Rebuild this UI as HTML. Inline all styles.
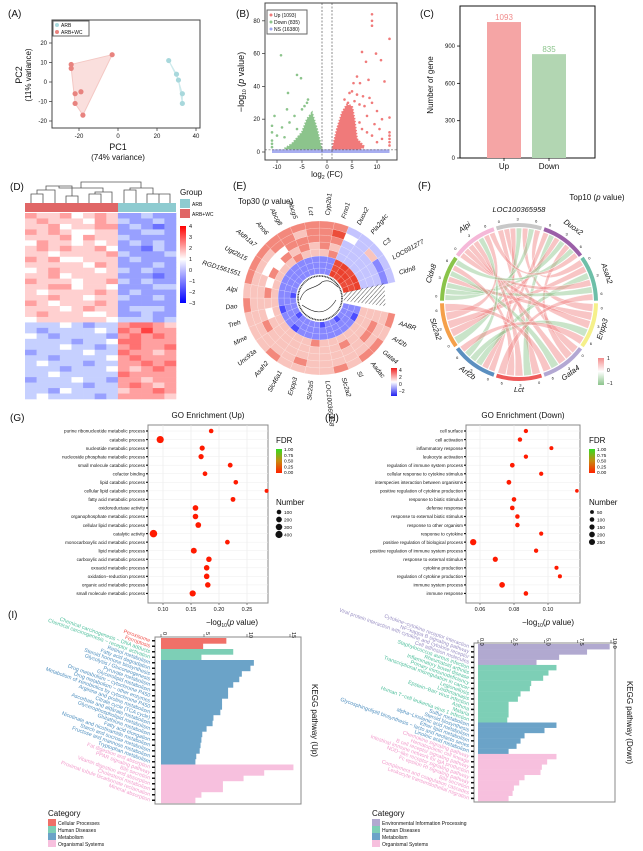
<!DOCTYPE html>
<html><head><meta charset="utf-8"><style>
body{margin:0;background:#fff}
svg{display:block;font-family:"Liberation Sans",sans-serif}
</style></head><body>
<svg id="fig" width="643" height="851" viewBox="0 0 643 851" xmlns="http://www.w3.org/2000/svg">
<defs>
<linearGradient id="gD" x1="0" y1="0" x2="0" y2="1"><stop offset="0" stop-color="#ff0000"/><stop offset="0.43" stop-color="#ffffff"/><stop offset="1" stop-color="#0000ff"/></linearGradient>
<linearGradient id="gE" x1="0" y1="0" x2="0" y2="1"><stop offset="0" stop-color="#f02020"/><stop offset="0.5" stop-color="#ffffff"/><stop offset="1" stop-color="#2020f0"/></linearGradient>
<linearGradient id="gF" x1="0" y1="0" x2="0" y2="1"><stop offset="0" stop-color="#f48c8c"/><stop offset="0.5" stop-color="#ffffff"/><stop offset="1" stop-color="#8cc48c"/></linearGradient>
<linearGradient id="gFDR" x1="0" y1="0" x2="0" y2="1"><stop offset="0" stop-color="#33dd22"/><stop offset="0.5" stop-color="#c88a10"/><stop offset="1" stop-color="#ff2200"/></linearGradient>
<pattern id="hatchP" width="3" height="3" patternUnits="userSpaceOnUse" patternTransform="rotate(45)"><line x1="0" y1="0" x2="0" y2="3" stroke="#222" stroke-width="0.8"/></pattern>
</defs>
</svg>
<script>
// ---------- data ----------
const pcaRed=[[-24,9],[-24,7],[-22,-6],[-19,-5],[-22,-11],[-18,-17],[-3,14]];
const pcaBlue=[[26,11],[30,4],[31,1],[33,-6],[33,-11]];
const volUp=[[9,84],[9,80],[9,77],[12.5,69],[7,61],[9.8,60],[10.8,56],[7.8,55],[11.5,43],[8.3,44],[6,46],[6.6,42],[5.3,42],[5,37],[4.5,36],[6,35],[7.2,34],[8.5,33],[5.5,31],[4.2,30],[6.5,29],[7.5,28],[9,30],[12.5,21],[10,25],[11,20],[8,22],[9.5,17],[10.5,14],[12.5,12],[12.5,10],[12.5,8],[12.5,6],[12.5,4],[11,8],[8,12],[7,14],[9,10],[10,6],[6.5,18],[5,25],[3.5,32]];
const volDown=[[-9.2,59],[-6,47],[-5.2,45],[-7.8,36],[-10.5,22],[-11,16],[-11,12],[-8,26],[-3.8,32],[-4.5,28],[-5,26],[-6.5,22],[-7.5,18],[-9,15],[-11,7],[-11,5],[-11,3],[-10,10],[-6,14],[-8.5,9],[-4,30]];
const volUpCloud=[[1,1],[2,14],[3,24],[4,29],[5,28],[5.5,20],[6,8],[7.5,3],[6,1]];
const volDownCloud=[[-1,1],[-2,14],[-3,24],[-4,20],[-5,12],[-7,5],[-8.5,2],[-5,1]];
const barCats=['Up','Down'];
const barVals=[1093,835];
const heatRows=["feefdefebbcbb","efeeedfecbbcb","eefdeeffbcbab","fefeddeebbccb","eeefdfeecbbbb","dfeededebcbcb","efefeefdbbacb","eedeeeefcbbbc","fefddeeebcbbb","eeeeedfebbbcb","defeeedecbcbb","eefdeeeebbbab","feeedeefcbcbb","eeffdeedbbbcc","edeeeefebcbbb","eefeedeecbbcb","fedeeefebbbbb","eeedefeebcccb","efeeeddebbcbb","deeeeeedcccbc","cccdcbccfggfe","cbccccdcgfhff","dcbccccbfgfgf","ccccbccdggfff","cccdccbcfgffg","bccccdccgffef","ccbccccdfgfff","cdcccbccffgfg","cccbcccdfefgf","ccdcccccgffff","bcccdccbffeff","cccccbccfgfef","ccbdcccceffgf","cdccccbcffffe"];
const circGenes=['AABR','Arf2b','Gata4','Aadac','Sl','Slc2a2','LOC100365958','Slc2a5','Enpp3','Slc46a1','Asah2','Unc93a','Mme','Treh','Dao','Alpi','RGD1561551','Ugt2b15','Aldh1a7','Ano6','Abcg8','Abcg5','Lct','Cyp2b1','Fmo1','Duox2','Pla2g4c','C3','LOC691277','Cldn8'];
const circVals=["bbbeeeef","bbaeefee","bbbeefef","abbeeeef","bbbefeee","bbbeeeef","abbeeeee","bbbfeeee","bbbeeefe","bbbeeeee","bbaeeeef","abbeeeee","bbbeefee","bbaedeee","bbbeeeef","abbefeee","bbbedeef","bbbefdef","bbbeddef","bbbefdff","bbbfefff","bbbeffef","bbbeefff","bbbeffff","bbbfefgf","hggcccdc","ghhccccc","hhgcccec","gghcccbc","hghcccbc"];
const chordGenes=['LOC100365958','Duox2','Asah2','Enpp3','Gata4','Lct','Arf2b','Slc2a2','Cldn8','Alpi'];
const chordPairs=[[0,5,1],[0,4,1],[0,6,1],[0,7,-1],[0,3,1],[0,8,-1],[0,2,1],[1,6,1],[1,5,-1],[1,7,1],[1,8,-1],[1,4,1],[2,7,1],[2,6,-1],[2,9,1],[2,8,-1],[3,8,1],[3,9,1],[3,6,-1],[4,9,1],[4,8,-1],[5,9,1],[5,8,1],[5,2,1],[6,9,-1],[6,3,1],[7,9,1],[7,4,1],[8,1,-1],[9,1,1]];
const goUpTerms=['purine ribonucleotide metabolic process','catabolic process','nucleotide metabolic process','nucleoside phosphate metabolic process','small molecule catabolic process','cofactor binding','lipid catabolic process','cellular lipid catabolic process','fatty acid metabolic process','oxidoreductase activity','organophosphate metabolic process','cellular lipid metabolic process','catalytic activity','monocarboxylic acid metabolic process','lipid metabolic process','carboxylic acid metabolic process','oxoacid metabolic process','oxidation−reduction process','organic acid metabolic process','small molecule metabolic process'];
const goUpRatio=[0.186,0.095,0.170,0.168,0.220,0.175,0.230,0.285,0.225,0.158,0.158,0.163,0.083,0.215,0.155,0.182,0.178,0.178,0.180,0.153];
const goUpCount=[100,400,150,160,120,110,100,60,120,200,190,210,450,110,230,180,190,190,185,260];
const goDownTerms=['cell surface','cell activation','inflammatory response','leukocyte activation','regulation of immune system process','cellular response to cytokine stimulus','interspecies interaction between organisms','positive regulation of cytokine production','response to biotic stimulus','defense response','response to external biotic stimulus','response to other organism','response to cytokine','positive regulation of biological process','positive regulation of immune system process','response to external stimulus','cytokine production','regulation of cytokine production','immune system process','immune response'];
const goDownRatio=[0.087,0.0835,0.102,0.087,0.079,0.096,0.077,0.117,0.080,0.079,0.082,0.082,0.096,0.056,0.093,0.069,0.105,0.107,0.073,0.087];
const goDownCount=[80,90,60,80,110,75,115,40,100,105,95,95,70,270,80,150,65,65,200,100];
const keggUpTerms=['Peroxisome','Ferroptosis','Chemical carcinogenesis − DNA adducts','Chemical carcinogenesis − receptor activation','Retinol metabolism','Fatty acid degradation','Steroid hormone biosynthesis','Glycolysis / Gluconeogenesis','Pyruvate metabolism','Glycerolipid metabolism','Drug metabolism − cytochrome P450','Drug metabolism − other enzymes','Metabolism of xenobiotics by cytochrome P450','Arginine and proline metabolism','Citrate cycle (TCA cycle)','Ascorbate and aldarate metabolism','Glycerophospholipid metabolism','Glutathione metabolism','Fatty acid elongation','Nicotinate and nicotinamide metabolism','Starch and sucrose metabolism','Fructose and mannose metabolism','Tryptophan metabolism','Fat digestion and absorption','PPAR signaling pathway','Bile secretion','Vitamin digestion and absorption','Cholesterol metabolism','Proximal tubule bicarbonate reclamation','Mineral absorption'];
const keggUpVals=[7.6,4.9,8.4,4.7,10.8,10.4,9.4,9.1,8.4,7.8,7.8,7.1,7.1,6.9,6.1,6.0,5.3,4.8,4.7,4.6,4.5,4.1,4.0,15.4,12.0,9.6,7.2,7.2,4.7,4.0];
const keggUpCat=['CP','CP','HD','HD','M','M','M','M','M','M','M','M','M','M','M','M','M','M','M','M','M','M','M','OS','OS','OS','OS','OS','OS','OS'];
const keggDnTerms=['Cytokine−cytokine receptor interaction','NF−kappa B signaling pathway','Viral protein interaction with cytokine and cytokine receptor','Cell adhesion molecules','Staphylococcus aureus infection','Rheumatoid arthritis','Inflammatory bowel disease','Primary immunodeficiency','Transcriptional misregulation in cancer','Legionellosis','Leishmaniasis','Epstein−Barr virus infection','Asthma','Malaria','Human T−cell leukemia virus 1 infection','Sulfur metabolism','Steroid biosynthesis','alpha−Linolenic acid metabolism','Ether lipid metabolism','Glycosphingolipid biosynthesis − lacto and neolacto series','Linoleic acid metabolism','Chemokine signaling pathway','Hematopoietic cell lineage','B cell receptor signaling pathway','Intestinal immune network for IgA production','NOD−like receptor signaling pathway','Fc epsilon RI signaling pathway','Bile secretion','Complement and coagulation cascades','Leukocyte transendothelial migration'];
const keggDnVals=[9.9,8.2,6.1,4.4,5.9,5.3,4.9,4.0,3.9,3.2,3.0,2.3,2.3,2.3,2.2,5.9,5.0,3.5,3.2,2.9,2.3,5.9,5.2,4.8,4.7,3.5,3.1,2.7,2.6,2.3];
const keggDnCat=['EIP','EIP','EIP','EIP','HD','HD','HD','HD','HD','HD','HD','HD','HD','HD','HD','M','M','M','M','M','M','OS','OS','OS','OS','OS','OS','OS','OS','OS'];

// ---------- helpers ----------
const NS='http://www.w3.org/2000/svg';
const svg=document.getElementById('fig');
function mk(tag,attrs,parent){const e=document.createElementNS(NS,tag);for(const k in attrs)e.setAttribute(k,attrs[k]);(parent||svg).appendChild(e);return e;}
function txt(x,y,s,size,anchor,name,extra){const e=mk('text',Object.assign({x:x,y:y,'font-size':size,'text-anchor':anchor||'start',fill:'#111'},extra||{}));e.textContent=s;


return e;}
function rich(x,y,html,size,anchor,name,extra){const e=mk('text',Object.assign({x:x,y:y,'font-size':size,'text-anchor':anchor||'start',fill:'#111'},extra||{}));e.innerHTML=html;


return e;}
function line(x1,y1,x2,y2,stroke,w,name,dash){const e=mk('line',{x1:x1,y1:y1,x2:x2,y2:y2,stroke:stroke,'stroke-width':w});if(dash)e.setAttribute('stroke-dasharray',dash);


return e;}
function box(x,y,w,h,name,stroke){const e=mk('rect',{x:x,y:y,width:w,height:h,fill:'none',stroke:stroke||'#444','stroke-width':1});


return e;}
const lvl=c=>c.charCodeAt(0)-100; // a=-3 .. h=4
const PV='(<tspan font-style="italic">p</tspan> value)';
const LOG10='−log<tspan font-size="5" dy="2">10</tspan><tspan dy="-2">';

// panel labels
[['(A)',8,17],['(B)',236,17],['(C)',420,17],['(D)',10,190],['(E)',233,189],['(F)',418,189],['(G)',10,421],['(H)',325,421],['(I)',8,618]].forEach(p=>{txt(p[1],p[2],p[0],10,'start','panel-label');});

// ---------- A: PCA ----------
{
const xs=v=>118+v*1.95, ys=v=>82-v*1.95;
box(52,20,148,108,'pca-plot-area');
[20,10,0,-10,-20].forEach(t=>{line(49,ys(t),52,ys(t),'#444',0.8,'y-tick');txt(47,ys(t)+2,String(t),6,'end','y-tick-label');});
[-20,0,20,40].forEach(t=>{line(xs(t),128,xs(t),131,'#444',0.8,'x-tick');txt(xs(t),138,String(t),6,'middle','x-tick-label');});
const hull=[pcaRed[0],pcaRed[6],pcaRed[5],pcaRed[4],pcaRed[1]];
const h1=mk('polygon',{points:hull.map(p=>xs(p[0])+','+ys(p[1])).join(' '),fill:'#f4b8b4','fill-opacity':0.45,stroke:'#f4c8c4'});


const hull2=[pcaBlue[0],pcaBlue[1],pcaBlue[3],pcaBlue[4],pcaBlue[2]];
const h2=mk('polygon',{points:hull2.map(p=>xs(p[0])+','+ys(p[1])).join(' '),fill:'#cdeaec','fill-opacity':0.6,stroke:'#cdeaec'});


pcaRed.forEach(p=>{const c=mk('circle',{cx:xs(p[0]),cy:ys(p[1]),r:2.6,fill:'#e8837f'});

});
pcaBlue.forEach(p=>{const c=mk('circle',{cx:xs(p[0]),cy:ys(p[1]),r:2.6,fill:'#a8d8dc'});

});
box(53,21,36,15,'pca-legend','#666');
const l1=mk('circle',{cx:57,cy:25,r:2,fill:'#a8d8dc'});


const l2=mk('circle',{cx:57,cy:32,r:2,fill:'#e8837f'});


txt(61,27,'ARB',5,'start','legend-arb');txt(61,34,'ARB+WC',5,'start','legend-arb-wc');
txt(118,150,'PC1',9,'middle','x-axis-title');txt(118,160,'(74% variance)',8,'middle','x-axis-subtitle');
txt(0,0,'PC2',9,'middle','y-axis-title',{transform:'translate(22,75) rotate(-90)'});
txt(0,0,'(11% variance)',8,'middle','y-axis-subtitle',{transform:'translate(31,75) rotate(-90)'});
}

// ---------- B: volcano ----------
{
const xs=v=>327+v*5.0, ys=v=>152-v*1.64;
box(265,3,132,157,'volcano-plot-area');
[0,20,40,60,80].forEach(t=>{line(262,ys(t),265,ys(t),'#444',0.8,'y-tick');txt(260,ys(t)+2,String(t),6,'end','y-tick-label');});
[-10,-5,0,5,10].forEach(t=>{line(xs(t),160,xs(t),163,'#444',0.8,'x-tick');txt(xs(t),169,String(t),6,'middle','x-tick-label');});
const cu=mk('polygon',{points:volUpCloud.map(p=>xs(p[0])+','+ys(p[1])).join(' '),fill:'#f07a7a','stroke':'#f07a7a','stroke-width':2,'stroke-dasharray':'1.5,1.5'});


const cd=mk('polygon',{points:volDownCloud.map(p=>xs(p[0])+','+ys(p[1])).join(' '),fill:'#8cc48c','stroke':'#8cc48c','stroke-width':2,'stroke-dasharray':'1.5,1.5'});


const ns=mk('rect',{x:xs(-11),y:ys(1.6),width:xs(12.5)-xs(-11),height:ys(0)-ys(1.6)+1,fill:'#a8aef0'});


volUp.forEach(p=>{const c=mk('circle',{cx:xs(p[0]),cy:ys(p[1]),r:1.3,fill:'#f07a7a'});

});
volDown.forEach(p=>{const c=mk('circle',{cx:xs(p[0]),cy:ys(p[1]),r:1.3,fill:'#8cc48c'});

});
line(xs(-1),3,xs(-1),160,'#444',0.6,'fc-threshold-left','2,1.5');
line(xs(1),3,xs(1),160,'#444',0.6,'fc-threshold-right','2,1.5');
line(265,ys(1.3),397,ys(1.3),'#444',0.6,'p-threshold','2,1.5');
box(267,10,40,24,'volcano-legend','#666');
[['Up (1093)','#f07a7a'],['Down (835)','#8cc48c'],['NS (16380)','#a0a8f0']].forEach((l,i)=>{const c=mk('circle',{cx:271,cy:15+i*7,r:1.5,fill:l[1]});


txt(274,17+i*7,l[0],5,'start','volcano-legend-label');});
rich(0,0,LOG10+' '+PV+'</tspan>',9,'middle','y-axis-title',{transform:'translate(244,82) rotate(-90)'});
rich(327,177,'log<tspan font-size="5" dy="2">2</tspan><tspan dy="-2"> (FC)</tspan>',8,'middle','x-axis-title');
}

// ---------- C: bar ----------
{
const ys=v=>158-v*0.1244;
box(460,6,135,152,'bar-plot-area','#111');
[0,300,600,900].forEach(t=>{line(457,ys(t),460,ys(t),'#111',0.8,'y-tick');txt(455,ys(t)+2,String(t),6,'end','y-tick-label');});
const bx=[487,532], colors=['#f5a5a5','#b2d6b2'], lc=['#f08a8a','#8cc48c'];
barCats.forEach((c,i)=>{const r=mk('rect',{x:bx[i],y:ys(barVals[i]),width:34,height:158-ys(barVals[i]),fill:colors[i]});


txt(bx[i]+17,ys(barVals[i])-2,String(barVals[i]),8,'middle','bar-value-label',{fill:lc[i]});
line(bx[i]+17,158,bx[i]+17,161,'#111',0.8,'x-tick');
txt(bx[i]+17,169,c,8,'middle','x-tick-label');});
txt(0,0,'Number of gene',8,'middle','y-axis-title',{transform:'translate(433,85) rotate(-90)'});
}

// ---------- D: heatmap ----------
{
const x0=25, cw=151/13, y0=213, rh=186/heatRows.length;
const col=v=>{const t=Math.min(1,Math.abs(v)/3.5);const g=Math.round(255*(1-t));return v>=0?`rgb(255,${g},${g})`:`rgb(${Math.round(g*0.95)},${g},255)`;};
heatRows.forEach((row,r)=>{for(let c=0;c<13;c++){const e=mk('rect',{x:x0+c*cw,y:y0+r*rh,width:cw+0.3,height:rh+0.3,fill:col(lvl(row[c])*0.65)});

}});
const a1=mk('rect',{x:25,y:203,width:93,height:9,fill:'#e06666'});


const a2=mk('rect',{x:118,y:203,width:58,height:9,fill:'#8ecbd0'});


const dend=mk('path',{d:'M31,203V194H43V203 M37,194V190H55V203 M66,203V196H78V203 M46,190V186H72V196 M89,203V194H101V203 M112,203V192H95V194 M103,192V188H59V186 M81,188V182H140 M124,203V190H136V203 M147,203V194H159V203 M170,203V194H153V194 M153,194V188H130V190 M141,188V182H140',fill:'none',stroke:'#555','stroke-width':0.8});


txt(180,195,'Group',8,'start','group-legend-title');
const g1=mk('rect',{x:180,y:199,width:10,height:9,fill:'#8ecbd0'});


const g2=mk('rect',{x:180,y:209,width:10,height:9,fill:'#e06666'});


txt(192,206,'ARB',5,'start','group-legend-arb');txt(192,216,'ARB+WC',5,'start','group-legend-arb-wc');
const cb=mk('rect',{x:180,y:226,width:6,height:77,fill:'url(#gD)'});


[4,3,2,1,0,-1,-2,-3].forEach(t=>txt(189,226+(4-t)*11+2,t<0?'−'+(-t):String(t),5.5,'start','colorbar-label'));
}

// ---------- E: circular heatmap ----------
{
const cx=320, cy=298, n=circGenes.length, a0=12, a1=348, step=(a1-a0)/n;
const radii=[24,30,36,42,49,56,63,70,77];
const col=v=>{const t=Math.min(1,Math.abs(v)/3.2);return v>=0?`rgb(${Math.round(255-t*20)},${Math.round(255-t*190)},${Math.round(255-t*210)})`:`rgb(${Math.round(255-t*190)},${Math.round(255-t*190)},255)`;};
const rad=d=>d*Math.PI/180;
const P=(r,d)=>[cx+r*Math.cos(rad(d)),cy+r*Math.sin(rad(d))];
circGenes.forEach((g,i)=>{const s=a0+i*step, e=s+step;
for(let k=0;k<8;k++){const r1=radii[k], r2=radii[k+1];const p1=P(r1,s),p2=P(r2,s),p3=P(r2,e),p4=P(r1,e);
const seg=mk('path',{d:`M${p1}L${p2}A${r2},${r2} 0 0 1 ${p3}L${p4}A${r1},${r1} 0 0 0 ${p1}Z`,fill:col(lvl(circVals[i][k])),stroke:'#fff','stroke-width':0.15});

}
const m=(s+e)/2, lp=P(83,m);let rot=m;let anc='start';if(m>90&&m<270){rot=m+180;anc='end';}
txt(lp[0],lp[1]+2,g,6.5,anc,'gene-label',{transform:`rotate(${rot},${lp[0]},${lp[1]})`,'font-style':'italic'});});
const inner=mk('circle',{cx:cx,cy:cy,r:22,fill:'none',stroke:'#333','stroke-width':1.5,'stroke-dasharray':'1,0.6'});


const hub=mk('path',{d:'M300,300 C305,285 315,290 322,282 C330,278 335,285 338,287 M302,305 C312,312 325,318 336,300',fill:'none',stroke:'#222','stroke-width':0.6});


const hp1=P(24,-10),hp2=P(66,-10),hp3=P(66,10),hp4=P(24,10);
const hatch=mk('path',{d:`M${hp1}L${hp2}L${hp3}L${hp4}Z`,fill:'url(#hatchP)',transform:'rotate(-3,320,298)'});


rich(238,204,'Top30 '+PV,8,'start','circ-title');
const cb=mk('rect',{x:391,y:368,width:6,height:28,fill:'url(#gE)'});


[['4',370],['2',377],['0',384],['−2',391]].forEach(l=>txt(399,l[1]+2,l[0],5,'start','circ-colorbar-label'));
}

// ---------- F: chord ----------
{
const cx=519, cy=302, r=74, nG=chordGenes.length, span=34, gap=2;
const segCol=['#c8c8c8','#9b5fa8','#6dbfa8','#f5f08a','#b3a8d3','#ee5a5a','#5b8fc0','#f5a04a','#8ac44a','#f5b8d8'];
const rad=d=>d*Math.PI/180;
const P=(rr,d)=>[(cx+rr*Math.cos(rad(d))).toFixed(1),(cy+rr*Math.sin(rad(d))).toFixed(1)];
const start=i=>-90-span/2-gap/2+i*(span+gap)+gap/2;
const counts=new Array(nG).fill(0);chordPairs.forEach(p=>{counts[p[0]]++;counts[p[1]]++;});
const used=new Array(nG).fill(0);
const slot=i=>{const w=span/counts[i];const s=start(i)+used[i]*w;used[i]++;return [s+0.3,s+w-0.3];};
chordPairs.forEach(p=>{const A=slot(p[0]),B=slot(p[1]);const a1=P(r,A[0]),a2=P(r,A[1]),b1=P(r,B[0]),b2=P(r,B[1]);
const d=`M${a1}A${r},${r} 0 0 1 ${a2}Q${cx},${cy} ${b1}A${r},${r} 0 0 1 ${b2}Q${cx},${cy} ${a1}Z`;
const e=mk('path',{d:d,fill:p[2]>0?'#f28b8b':'#93c993','fill-opacity':0.5,stroke:'#fff','stroke-width':0.4});

});
chordGenes.forEach((g,i)=>{const s=start(i), e=s+span;const o1=P(r+1,s),o2=P(r+5,s),o3=P(r+5,e),o4=P(r+1,e);
const seg=mk('path',{d:`M${o1}L${o2}A${r+5},${r+5} 0 0 1 ${o3}L${o4}A${r+1},${r+1} 0 0 0 ${o1}Z`,fill:segCol[i]});


const m=s+span/2, lp=P(r+16,m);let rot=m+90;if(m>0&&m<180)rot=m-90;
txt(lp[0],lp[1]+2,g,7.5,'middle','chord-gene-label',{transform:`rotate(${rot},${lp[0]},${lp[1]})`,'font-style':'italic'});
[0,0.5,1].forEach((f,k)=>{const tp=P(r+9,s+3+f*(span-8));txt(tp[0],+tp[1]+1.5,['0','3','6'][k],4,'middle','chord-tick-label');});});
rich(597,200,'Top10 '+PV,8,'middle','chord-title');
const cb=mk('rect',{x:598,y:358,width:6,height:27,fill:'url(#gF)'});


[['1',360],['0',372],['−1',385]].forEach(l=>txt(607,l[1],l[0],5,'start','chord-colorbar-label'));
}

// ---------- G / H: GO dot plots ----------
function goPlot(terms,ratio,count,left,right,xs,ticks,title,legendX,sizes,name){
const top=425,bot=603,rh=8.55;
box(left,top,right-left,bot-top,name+'-plot-area','#888');
ticks.forEach(t=>{line(xs(t),top,xs(t),bot,'#e6e6e6',0.6,'x-gridline');line(xs(t),bot,xs(t),bot+2,'#444',0.6,'x-tick');txt(xs(t),bot+8,t.toFixed(2),5.5,'middle','x-tick-label');});
terms.forEach((t,i)=>{const y=top+6+i*rh;line(left,y,right,y,'#eeeeee',0.5,'y-gridline');line(left-2,y,left,y,'#111',1.2,'y-tick');
txt(left-3,y+1.7,t,4.6,'end','go-term-label');
const c=mk('circle',{cx:xs(ratio[i]),cy:y,r:1+Math.sqrt(count[i])*0.13,fill:'#ff1a00'});

});
txt((left+right)/2,418,title,8,'middle',name+'-title');
txt(legendX,443,'FDR',8,'start','fdr-legend-title');
const g=mk('rect',{x:legendX,y:449,width:6,height:24,fill:'url(#gFDR)'});


['1.00','0.75','0.50','0.25','0.00'].forEach((l,k)=>txt(legendX+8,451+k*5.8,l,4.8,'start','fdr-label'));
txt(legendX,505,'Number',8,'start','number-legend-title');
sizes.forEach((s,k)=>{const c=mk('circle',{cx:legendX+3,cy:512+k*7.5,r:1+Math.sqrt(s)*0.13,fill:'#111'});


txt(legendX+8,514+k*7.5,String(s),4.8,'start','number-legend-label');});
}
goPlot(goUpTerms,goUpRatio,goUpCount,148,268,v=>163+(v-0.10)*560,[0.10,0.15,0.20,0.25],'GO Enrichment (Up)',276,[100,200,300,400],'go-up');
goPlot(goDownTerms,goDownRatio,goDownCount,466,580,v=>480+(v-0.06)*1700,[0.06,0.08,0.10],'GO Enrichment (Down)',589,[50,100,150,200,250],'go-down');

// ---------- I: KEGG bars ----------
const catCol={CP:'#f07068',HD:'#7dcfb6',M:'#6ba3c8',OS:'#f7c0de',EIP:'#b1a9d0'};
const catTxt={CP:'#f0504a',HD:'#4fbf9c',M:'#4f8fbf',OS:'#f29ccc',EIP:'#9a90c4'};
function kegg(terms,vals,cats,left,right,top,bot,x0,ppu,ticks,tickFmt,axTitleX,side,sideX,name){
box(left,top,right-left,bot-top,name+'-plot-area','#888');
const rh=(bot-top-2)/terms.length;
terms.forEach((t,i)=>{const y=top+1+i*rh;const b=mk('rect',{x:x0,y:y,width:vals[i]*ppu,height:rh+0.2,fill:catCol[cats[i]]});


line(left-3,y+rh/2,left,y+rh/2,'#111',1.5,'y-tick');
txt(left-5,y+rh/2+1.5,t,5.3,'end','kegg-term-label',{fill:catTxt[cats[i]],transform:`rotate(20,${left-5},${y+rh/2})`});});
ticks.forEach(t=>{const x=x0+t*ppu;line(x,top-3,x,top,'#444',0.6,'x-tick');txt(0,0,tickFmt(t),5.5,'start','x-tick-label',{transform:`translate(${x+2},${top-5}) rotate(90)`});});
rich(axTitleX,625,LOG10+PV+'</tspan>',8,'middle','x-axis-title');
txt(0,0,side,8,'middle','y-axis-title',{transform:`translate(${sideX},${(top+bot)/2}) rotate(90)`});
}
kegg(keggUpTerms,keggUpVals,keggUpCat,155,301,637,804,161,8.6,[0,5,10,15],t=>String(t),232,'KEGG pathway (Up)',312,'kegg-up');
kegg(keggDnTerms,keggDnVals,keggDnCat,474,615,643,802,478,13.3,[0,2.5,5,7.5,10],t=>t.toFixed(1),548,'KEGG pathway (Down)',627,'kegg-down');

function catLegend(x,items){txt(x,816,'Category',8,'start','category-legend-title');
items.forEach((it,k)=>{const r=mk('rect',{x:x,y:819+k*7,width:8,height:7,fill:catCol[it[0]]});


txt(x+10,825+k*7,it[1],5,'start','category-legend-label');});}
catLegend(48,[['CP','Cellular Processes'],['HD','Human Diseases'],['M','Metabolism'],['OS','Organismal Systems']]);
catLegend(372,[['EIP','Environmental Information Processing'],['HD','Human Diseases'],['M','Metabolism'],['OS','Organismal Systems']]);
</script>
</body></html>
